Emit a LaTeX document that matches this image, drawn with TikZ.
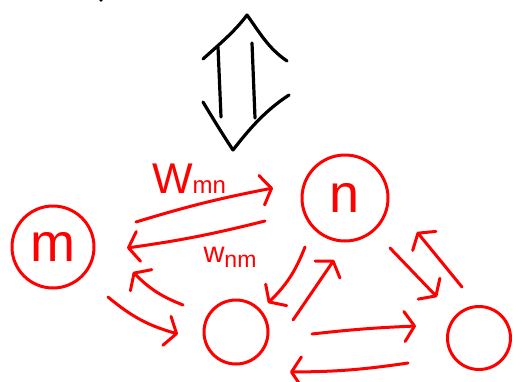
\documentclass[tikz,border=0pt]{standalone}
\usepackage{fontspec}
\setmainfont{Liberation Sans}
\usetikzlibrary{arrows.meta}

\begin{document}
\begin{tikzpicture}[x=1pt,y=-1pt,
		pen/.style={red,line width=3pt,line cap=round,line join=round},
		ink/.style={black,line width=3.2pt,line cap=round,line join=round},
		blob/.style={pen,draw,circle,inner sep=0pt},
		link/.style={pen,-{Straight Barb[length=10pt,width=30pt,round]}},
		big/.style={font=\fontsize{54}{54}\selectfont}]
		\useasboundingbox (0,0) rectangle (524,381);

		\fill (101,0) circle (1.8);
		\draw[ink] (218,47) -- (221,117);
		\draw[ink] (252,43) -- (255,118);
		\draw[ink] (203,59) .. controls (222,42) and (236,30) .. (247,15) .. controls (260,33) and (268,48) .. (287,61);
		\draw[ink] (203,102) .. controls (215,122) and (225,138) .. (233,150) .. controls (250,128) and (266,110) .. (289,95);

		\node[blob,big,minimum size=82] (m) at (53,247) {m};
		\node[blob,big,minimum size=86] (n) at (345,198) {n};
		\node[blob,minimum size=64] (b) at (236,332) {};
		\node[blob,minimum size=63] (r) at (479,338) {};

		\node[red,font=\fontsize{43}{43}\selectfont,anchor=base] (wmn) at (189,193) {W\fontsize{24}{24}\selectfont mn};
		\node[red,font=\fontsize{29}{29}\selectfont,anchor=base] (wnm) at (230,262) {w\raisebox{-5pt}{\fontsize{23}{23}\selectfont nm}};

		\coordinate (mn1) at (136,222);
		\coordinate (mn2) at (273,188);
		\coordinate (nm1) at (265,221);
		\coordinate (nm2) at (127,248);
		\coordinate (bm1) at (183,305);
		\coordinate (bm2) at (133,272);
		\coordinate (mb1) at (108,297);
		\coordinate (mb2) at (178,334);
		\coordinate (nb1) at (305,247);
		\coordinate (nb2) at (268,303);
		\coordinate (bn1) at (293,320);
		\coordinate (bn2) at (334,260);
		\coordinate (nr1) at (390,248);
		\coordinate (nr2) at (437,297);
		\coordinate (rn1) at (462,287);
		\coordinate (rn2) at (417,232);
		\coordinate (br1) at (312,334);
		\coordinate (br2) at (416,326);
		\coordinate (rb1) at (408,363);
		\coordinate (rb2) at (290,372);

		\draw[link] (mn1) to[bend left=3] (mn2);
		\draw[link] (nm1) to[bend left=3] (nm2);
		\draw[link] (bm1) to[bend left=12] (bm2);
		\draw[link] (mb1) to[bend right=12] (mb2);
		\draw[link] (nb1) to[bend left=12] (nb2);
		\draw[link] (bn1) -- (bn2);
		\draw[link] (nr1) -- (nr2);
		\draw[link] (rn1) -- (rn2);
		\draw[link] (br1) to[bend left=2] (br2);
		\draw[link] (rb1) to[bend left=4] (rb2);
	\end{tikzpicture}
\end{document}
